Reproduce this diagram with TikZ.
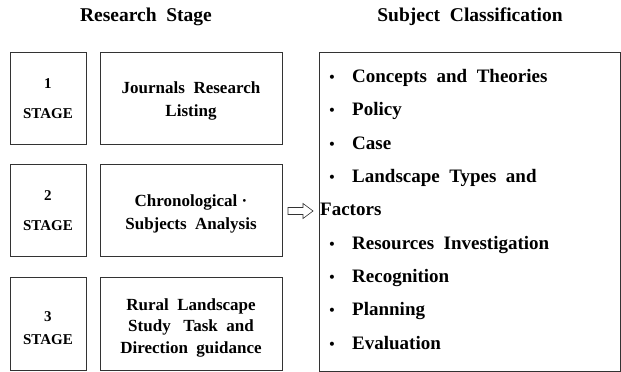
\documentclass[tikz,border=0pt]{standalone}
\usepackage{fontspec}
\setmainfont{Liberation Serif}
\begin{document}
\begin{tikzpicture}[x=1pt,y=-1pt,
  box/.style={draw=black!80, line width=0.8pt, inner sep=0pt},
  stagebox/.style={box, minimum width=76pt, minimum height=92pt},
  taskbox/.style={box, minimum width=182pt, minimum height=92pt},
  stagetext/.style={inner sep=0pt, align=center, font=\bfseries\fontsize{15}{30}\selectfont},
  tasktext/.style={inner sep=0pt, align=center, font=\bfseries\fontsize{17}{23}\selectfont},
  title/.style={font=\bfseries\fontsize{19.5}{22}\selectfont},
  item/.style={anchor=west, inner sep=0pt, text height=0.72em, text depth=0.22em, font=\bfseries\fontsize{19}{22}\selectfont},
  dot/.style={inner sep=0pt, font=\bfseries\fontsize{25}{25}\selectfont}
]
\useasboundingbox (0,0) rectangle (621,372);
\node[title] (t1) at (146,17) {Research\ \ Stage};
\node[title] (t2) at (470,17) {Subject\ \ Classification};

\node[stagebox] (s1) at (48,98) {};
\node[stagetext] (s1t) at ([yshift=-0.5pt]s1.center) {1\\STAGE};
\node[taskbox] (j1) at (191,98) {};
\node[tasktext] (j1t) at ([yshift=-3pt]j1.center) {Journals\ \ Research\\Listing};

\node[stagebox] (s2) at (48,210.5) {};
\node[stagetext] (s2t) at ([yshift=-0.5pt]s2.center) {2\\STAGE};
\node[taskbox] (j2) at (191,210.5) {};
\node[tasktext] (j2t) at ([yshift=-3pt]j2.center) {Chronological\ ·\\Subjects\ \ Analysis};

\node[stagebox, minimum height=93pt] (s3) at (48,323.5) {};
\node[stagetext, font=\bfseries\fontsize{15}{23}\selectfont] (s3t) at ([yshift=-5pt]s3.center) {3\\STAGE};
\node[taskbox, minimum height=93pt] (j3) at (191,323.5) {};
\node[tasktext, font=\bfseries\fontsize{17}{21.5}\selectfont] (j3t) at ([yshift=-4pt]j3.center) {Rural\ \ Landscape\\Study\ \ \ Task\ \ and\\Direction\ \ guidance};

\node[box, minimum width=301pt, minimum height=319pt] (cls) at (469.5,211.5) {};

\draw[draw=black!80, line width=0.6pt, fill=white]
  (288,207.5) -- (303,207.5) -- (303,203.5) -- (313,211) -- (303,218.5) -- (303,214.5) -- (288,214.5) -- cycle;

\node[dot] (b1) at (332,80) {·};
\node[item] (i1) at (352,80) {Concepts\ \ and\ \ Theories};
\node[dot] (b2) at (332,113) {·};
\node[item] (i2) at (352,113) {Policy};
\node[dot] (b3) at (332,147) {·};
\node[item] (i3) at (352,147) {Case};
\node[dot] (b4) at (332,180) {·};
\node[item] (i4) at (352,180) {Landscape\ \ Types\ \ and};
\node[item] (i5) at (320,213) {Factors};
\node[dot] (b6) at (332,247) {·};
\node[item] (i6) at (352,247) {Resources\ \ Investigation};
\node[dot] (b7) at (332,280) {·};
\node[item] (i7) at (352,280) {Recognition};
\node[dot] (b8) at (332,313) {·};
\node[item] (i8) at (352,313) {Planning};
\node[dot] (b9) at (332,347) {·};
\node[item] (i9) at (352,347) {Evaluation};
\end{tikzpicture}
\end{document}
